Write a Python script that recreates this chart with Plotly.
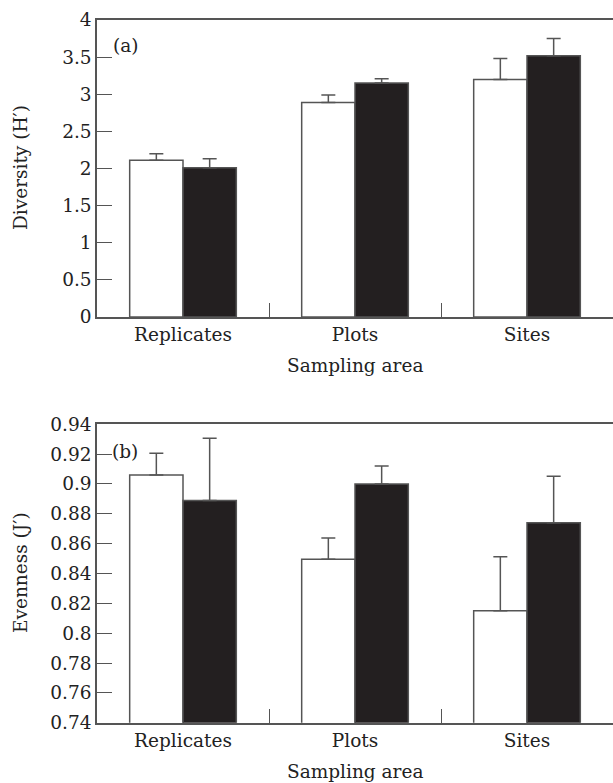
import plotly.graph_objects as go

categories = ["Replicates", "Plots", "Sites"]

div_white = [2.11, 2.89, 3.20]
div_white_err = [0.09, 0.10, 0.28]
div_black = [2.01, 3.15, 3.52]
div_black_err = [0.12, 0.06, 0.23]

even_white = [0.906, 0.8495, 0.815]
even_white_err = [0.0146, 0.0143, 0.0362]
even_black = [0.889, 0.900, 0.874]
even_black_err = [0.0416, 0.012, 0.0311]

W, H = 613, 783
L = 97
FONT = "DejaVu Serif"
FS = 18.5
AX = "#555555"

def py(px):
    return 1 - px / H

fig = go.Figure()

def add_pair(white, werr, black, berr, xa, ya):
    fig.add_trace(go.Bar(x=categories, y=white, xaxis=xa, yaxis=ya,
                         marker=dict(color="white", line=dict(color="#555555", width=1.5)),
                         error_y=dict(type="data", array=werr, arrayminus=[0]*3, symmetric=False,
                                      color="#555555", thickness=1.5, width=7),
                         showlegend=False))
    fig.add_trace(go.Bar(x=categories, y=black, xaxis=xa, yaxis=ya,
                         marker=dict(color="#231f20", line=dict(color="#555555", width=1.5)),
                         error_y=dict(type="data", array=berr, arrayminus=[0]*3, symmetric=False,
                                      color="#555555", thickness=1.5, width=7),
                         showlegend=False))

add_pair(div_white, div_white_err, div_black, div_black_err, "x", "y")
add_pair(even_white, even_white_err, even_black, even_black_err, "x2", "y2")

xcommon = dict(type="category", range=[-0.5, 2.5], showline=True, linecolor=AX, linewidth=1.5,
               mirror=True, ticks="inside", ticklen=14, tickwidth=1.2, tickcolor=AX,
               tickson="boundaries", showgrid=False, zeroline=False, automargin=False,
               tickfont=dict(family=FONT, size=FS, color="#222"), fixedrange=True)
ycommon = dict(showline=True, linecolor=AX, linewidth=1.5, ticks="inside", ticklen=15,
               tickwidth=1.2, tickcolor=AX, showgrid=False, zeroline=False, automargin=False,
               tickfont=dict(family=FONT, size=FS, color="#222"), fixedrange=True)

fig.update_layout(
    width=W, height=H,
    margin=dict(l=L, r=0, t=0, b=0),
    paper_bgcolor="white", plot_bgcolor="white",
    barmode="group", bargap=0.38, bargroupgap=0,
    xaxis=dict(**xcommon, domain=[0, 1], anchor="y"),
    yaxis=dict(**ycommon, domain=[py(317), py(20)], range=[0, 4],
               tickvals=[0, 0.5, 1, 1.5, 2, 2.5, 3, 3.5, 4],
               ticktext=["0", "0.5", "1", "1.5", "2", "2.5", "3", "3.5", "4"], anchor="x"),
    xaxis2=dict(**xcommon, domain=[0, 1], anchor="y2"),
    yaxis2=dict(**ycommon, domain=[py(722.7), py(424.3)], range=[0.74, 0.94],
                tickvals=[0.74, 0.76, 0.78, 0.8, 0.82, 0.84, 0.86, 0.88, 0.9, 0.92, 0.94],
                ticktext=["0.74", "0.76", "0.78", "0.8", "0.82", "0.84", "0.86", "0.88", "0.9", "0.92", "0.94"],
                anchor="x2"),
    font=dict(family=FONT, size=FS, color="#222"),
)

pw = W - L
def pxx(px):
    return (px - L) / pw

ann = [
    dict(text="(a)", x=pxx(111), y=py(46), xanchor="left", yanchor="middle"),
    dict(text="(b)", x=pxx(110), y=py(452), xanchor="left", yanchor="middle"),
    dict(text="Diversity (H′)", x=pxx(20), y=py(168), textangle=-90, xanchor="center", yanchor="middle"),
    dict(text="Evenness (J′)", x=pxx(20), y=py(573), textangle=-90, xanchor="center", yanchor="middle"),
    dict(text="Sampling area", x=pxx(355), y=py(366), xanchor="center", yanchor="middle"),
    dict(text="Sampling area", x=pxx(355), y=py(771), xanchor="center", yanchor="middle"),
]
for a in ann:
    fig.add_annotation(xref="paper", yref="paper", showarrow=False,
                       font=dict(family=FONT, size=FS, color="#222"), **a)

fig.write_html("out.html", config={"displayModeBar": False},
               post_script="document.body.style.margin='0';document.body.style.overflow='hidden';")
